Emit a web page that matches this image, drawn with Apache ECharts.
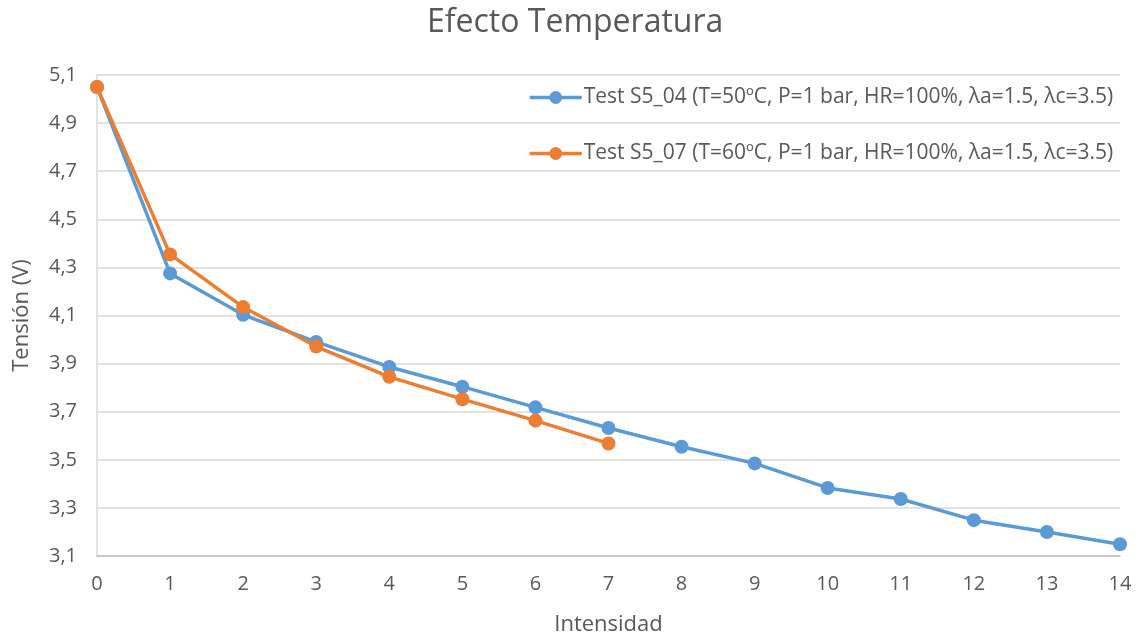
<!DOCTYPE html>
<html>
<head>
<meta charset="utf-8">
<script src="https://cdn.jsdelivr.net/npm/echarts@6/dist/echarts.min.js"></script>
<style>html,body{margin:0;padding:0;background:#fff}#c{width:1137px;height:636px}</style>
</head>
<body>
<div id="c"></div>
<script>
var title = 'Efecto Temperatura';
var xName = 'Intensidad';
var yName = 'Tensión (V)';
var name1 = 'Test S5_04 (T=50ºC, P=1 bar, HR=100%, λa=1.5, λc=3.5)';
var name2 = 'Test S5_07 (T=60ºC, P=1 bar, HR=100%, λa=1.5, λc=3.5)';
var x1 = [0,1,2,3,4,5,6,7,8,9,10,11,12,13,14];
var y1 = [5.05,4.275,4.103,3.99,3.886,3.804,3.718,3.632,3.554,3.485,3.383,3.337,3.249,3.2,3.149];
var x2 = [0,1,2,3,4,5,6,7];
var y2 = [5.05,4.354,4.135,3.971,3.845,3.752,3.663,3.568];

var font = 'Open Sans';
var txt = '#595959';
function pairs(xs, ys){ return xs.map(function(v,i){ return [v, ys[i]]; }); }

var chart = echarts.init(document.getElementById('c'));
chart.setOption({
  backgroundColor: '#fff',
  animation: false,
  textStyle: {fontFamily: font},
  title: {text: title, left: 427, top: 7, padding: 0,
    textStyle: {fontFamily: font, fontSize: 32, fontWeight: 'normal', color: txt}},
  grid: {left: 97, right: 17, top: 75, bottom: 80, containLabel: false, outerBoundsMode: 'none'},
  legend: {
    orient: 'vertical', left: 528, top: 87, padding: 0, itemWidth: 52, itemHeight: 16, itemGap: 35,
    lineStyle: {width: 3.5},
    textStyle: {fontFamily: font, fontSize: 21, color: txt, padding: [0,0,0,-3]},
    data: [name1, name2]
  },
  xAxis: {
    type: 'value', min: 0, max: 14, interval: 1,
    name: xName, nameLocation: 'middle', nameGap: 58,
    nameTextStyle: {fontFamily: font, fontSize: 22, color: txt},
    axisLine: {show: true, lineStyle: {color: '#bfbfbf', width: 1.5}},
    axisTick: {show: false},
    splitLine: {show: false},
    axisLabel: {fontFamily: font, fontSize: 20, color: txt, margin: 18}
  },
  yAxis: {
    type: 'value', min: 3.1, max: 5.1, interval: 0.2,
    name: yName, nameLocation: 'middle', nameGap: 64,
    nameTextStyle: {fontFamily: font, fontSize: 22, color: txt},
    axisLine: {show: true, lineStyle: {color: '#d9d9d9', width: 1.5}},
    axisTick: {show: false},
    splitLine: {show: true, lineStyle: {color: '#d9d9d9', width: 1.5}},
    axisLabel: {fontFamily: font, fontSize: 20, color: txt, margin: 20,
      formatter: function(v){ return v.toFixed(1).replace('.', ','); }}
  },
  series: [
    {name: name1, type: 'line', data: pairs(x1, y1), symbol: 'circle', symbolSize: 14,
      lineStyle: {color: '#5B9BD5', width: 3.5}, itemStyle: {color: '#5B9BD5'}, z: 2},
    {name: name2, type: 'line', data: pairs(x2, y2), symbol: 'circle', symbolSize: 14,
      lineStyle: {color: '#ED7D31', width: 3.5}, itemStyle: {color: '#ED7D31'}, z: 3}
  ]
});
</script>
</body>
</html>
